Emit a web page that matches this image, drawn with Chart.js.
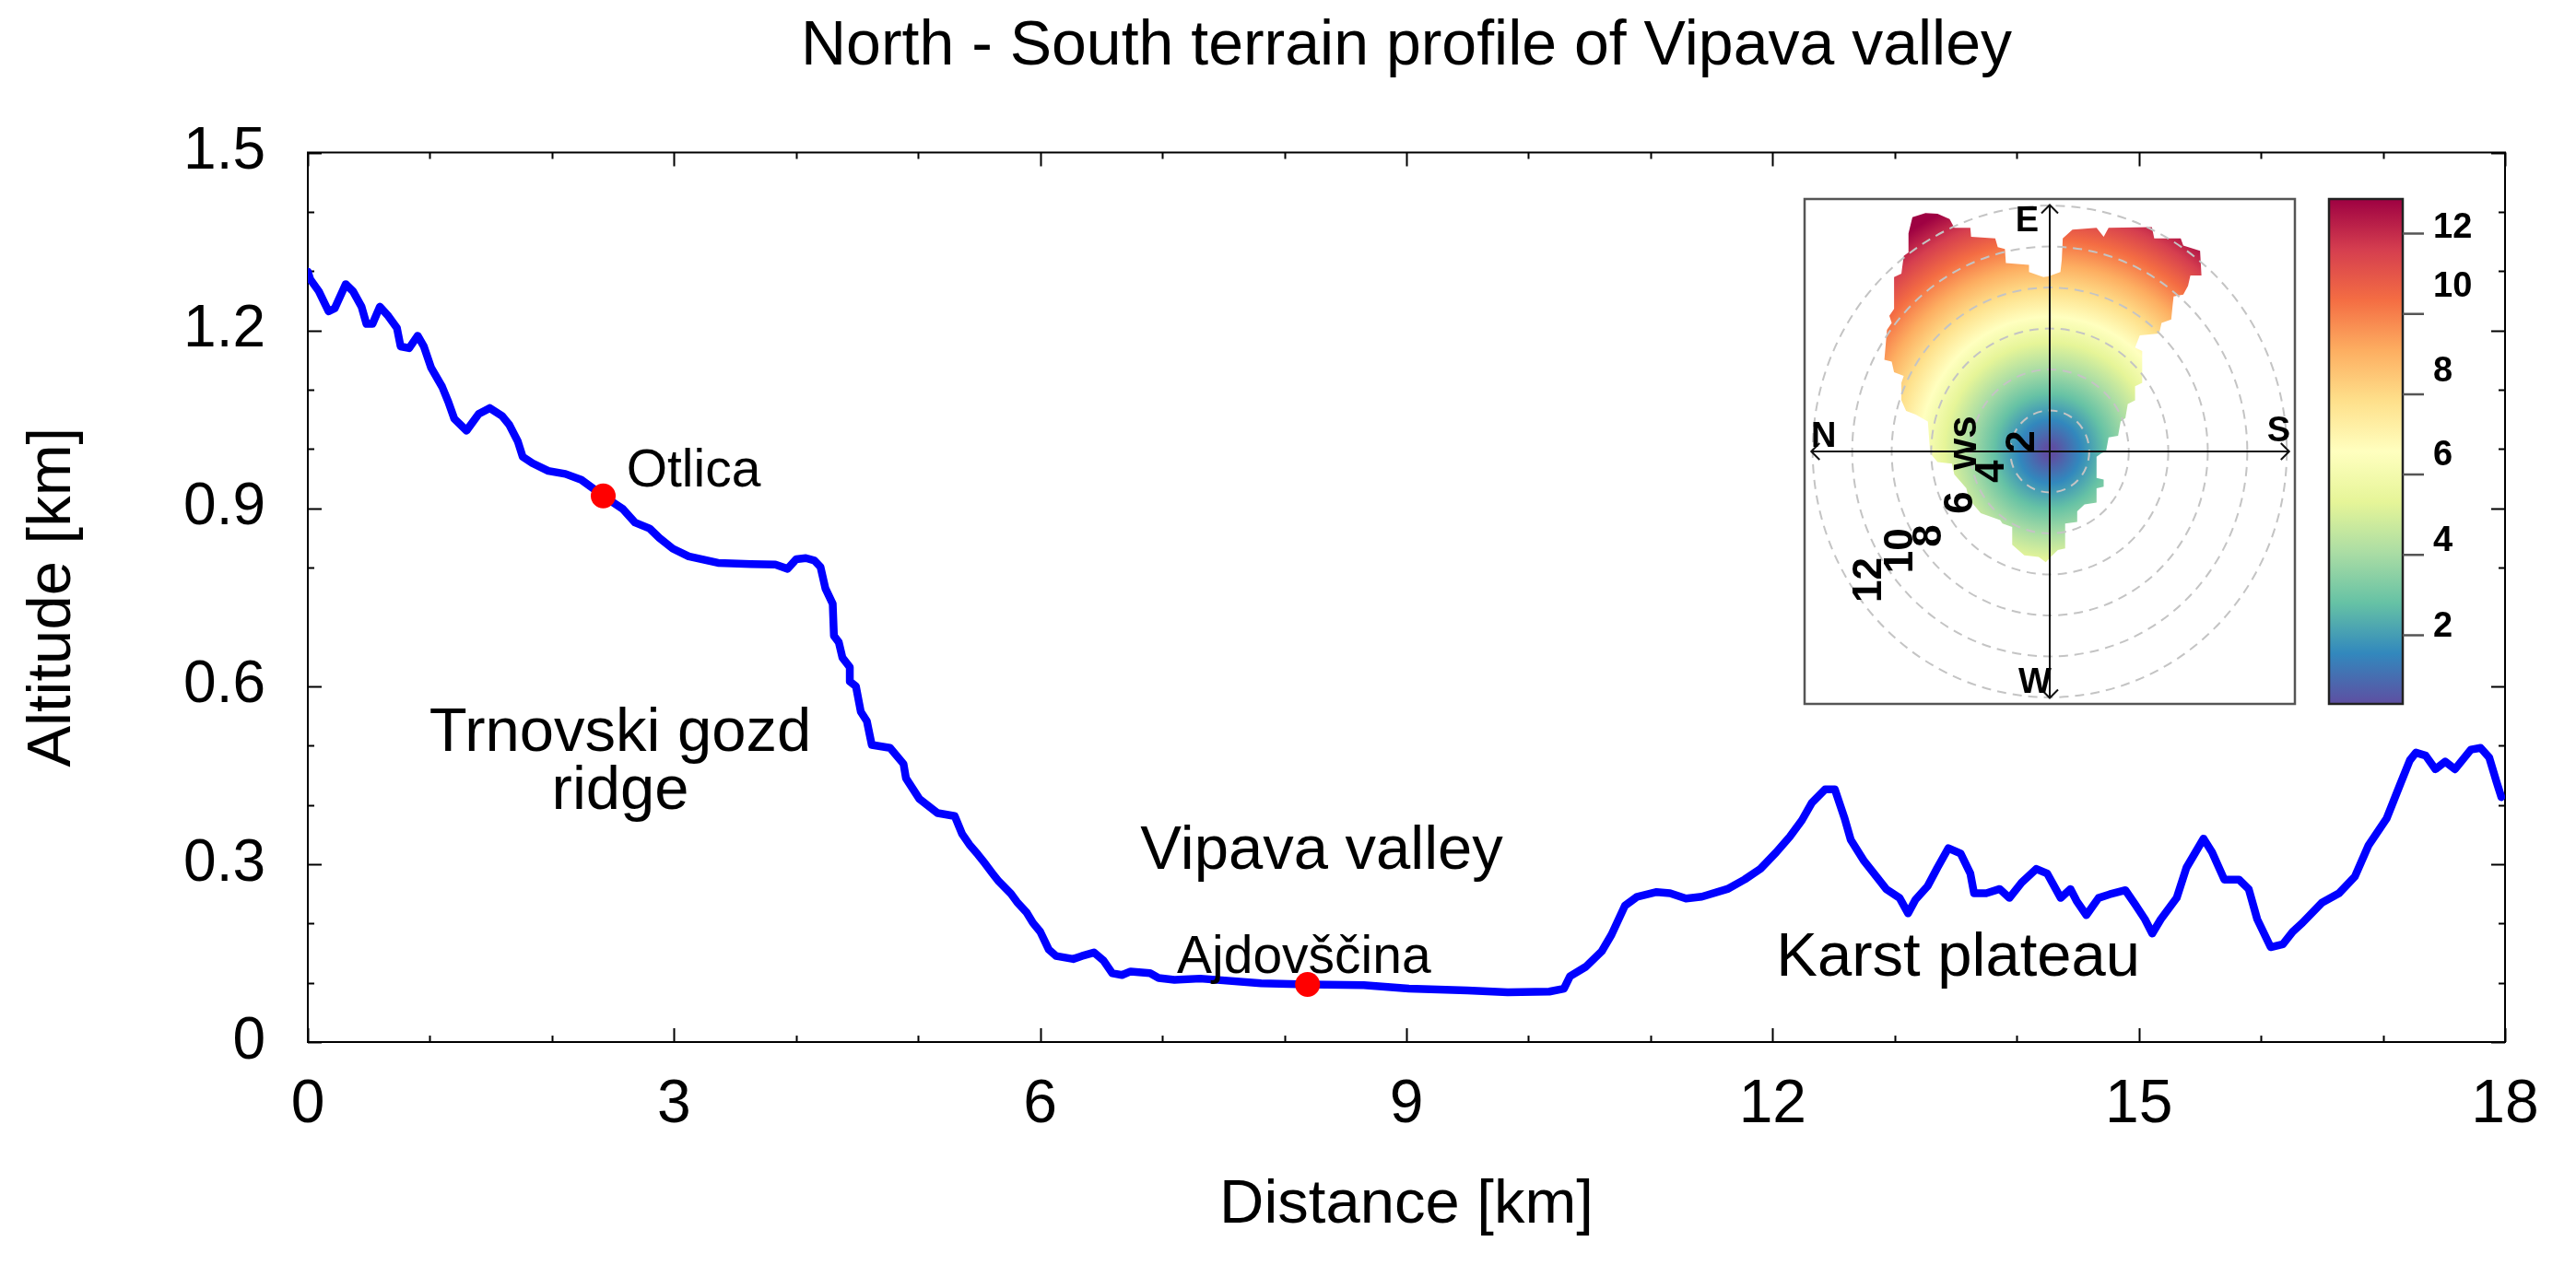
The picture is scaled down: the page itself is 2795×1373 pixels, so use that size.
<!DOCTYPE html>
<html>
<head>
<meta charset="utf-8">
<title>North - South terrain profile of Vipava valley</title>
<script src="https://cdn.jsdelivr.net/npm/chart.js@4.4.1/dist/chart.umd.min.js"></script>
<style>
  html, body { margin: 0; padding: 0; background: #fff; }
  #wrap { position: relative; width: 2795px; height: 1373px; }
  #profile { position: absolute; left: 0; top: 0; }
  #windrose { position: absolute; left: 1940px; top: 190px; }
</style>
</head>
<body>
<div id="wrap">
  <canvas id="profile" width="2795" height="1373"></canvas>
  <canvas id="windrose" width="760" height="600"></canvas>
</div>
<script>
// terrain profile
const distanceKm = [
  0.00, 0.02, 0.09, 0.17, 0.22, 0.31, 0.37, 0.44, 0.48, 0.53, 0.59, 0.66, 0.73, 0.76, 0.83, 0.90, 0.95,
  1.01, 1.10, 1.15, 1.20, 1.30, 1.40, 1.49, 1.59, 1.65, 1.72, 1.76, 1.84, 1.97, 2.11, 2.24, 2.42, 2.58,
  2.68, 2.80, 2.88, 2.99, 3.12, 3.36, 3.63, 3.83, 3.93, 4.00, 4.08, 4.15, 4.20, 4.24, 4.30, 4.31, 4.35,
  4.38, 4.44, 4.44, 4.49, 4.53, 4.58, 4.62, 4.77, 4.88, 4.90, 5.01, 5.16, 5.30, 5.36, 5.42, 5.49, 5.54,
  5.61, 5.66, 5.76, 5.81, 5.89, 5.94, 6.00, 6.07, 6.13, 6.27, 6.34, 6.44, 6.52, 6.59, 6.67, 6.74, 6.90,
  6.97, 7.10, 7.31, 7.81, 8.19, 8.65, 9.02, 9.50, 9.83, 10.17, 10.29, 10.34, 10.47, 10.60, 10.68, 10.79,
  10.89, 11.05, 11.16, 11.29, 11.42, 11.63, 11.77, 11.90, 12.03, 12.14, 12.24, 12.32, 12.43, 12.51, 12.59,
  12.64, 12.75, 12.85, 12.93, 13.04, 13.11, 13.17, 13.27, 13.35, 13.44, 13.54, 13.62, 13.65, 13.75, 13.86,
  13.94, 14.04, 14.16, 14.25, 14.36, 14.44, 14.49, 14.57, 14.67, 14.76, 14.89, 14.97, 15.05, 15.11, 15.18,
  15.31, 15.39, 15.53, 15.60, 15.70, 15.82, 15.90, 15.97, 16.08, 16.18, 16.26, 16.34, 16.50, 16.64, 16.77,
  16.88, 17.03, 17.14, 17.22, 17.27, 17.35, 17.43, 17.51, 17.59, 17.72, 17.80, 17.87, 17.93, 17.97
];
const altitudeKm = [
  1.299, 1.286, 1.266, 1.232, 1.237, 1.278, 1.266, 1.240, 1.211, 1.211, 1.240, 1.224, 1.204, 1.173, 1.170, 1.191, 1.173,
  1.137, 1.105, 1.080, 1.051, 1.031, 1.059, 1.069, 1.056, 1.041, 1.013, 0.987, 0.976, 0.963, 0.958, 0.948, 0.921, 0.899,
  0.876, 0.866, 0.850, 0.832, 0.819, 0.808, 0.806, 0.805, 0.798, 0.814, 0.816, 0.812, 0.801, 0.765, 0.739, 0.685, 0.674,
  0.648, 0.632, 0.608, 0.600, 0.557, 0.541, 0.501, 0.496, 0.469, 0.445, 0.410, 0.386, 0.381, 0.351, 0.333, 0.316, 0.303,
  0.284, 0.271, 0.250, 0.236, 0.218, 0.201, 0.186, 0.156, 0.145, 0.140, 0.145, 0.151, 0.137, 0.116, 0.113, 0.119, 0.116,
  0.108, 0.105, 0.107, 0.099, 0.097, 0.096, 0.090, 0.087, 0.084, 0.085, 0.090, 0.111, 0.127, 0.153, 0.181, 0.230,
  0.245, 0.253, 0.251, 0.242, 0.245, 0.258, 0.274, 0.292, 0.320, 0.346, 0.374, 0.403, 0.426, 0.426, 0.377,
  0.341, 0.305, 0.279, 0.258, 0.243, 0.217, 0.240, 0.263, 0.294, 0.327, 0.318, 0.284, 0.251, 0.251, 0.258,
  0.243, 0.269, 0.292, 0.284, 0.243, 0.258, 0.238, 0.214, 0.243, 0.249, 0.256, 0.232, 0.207, 0.183, 0.207,
  0.243, 0.294, 0.343, 0.320, 0.274, 0.274, 0.258, 0.207, 0.160, 0.165, 0.186, 0.201, 0.235, 0.251, 0.279,
  0.331, 0.377, 0.434, 0.475, 0.488, 0.483, 0.460, 0.473, 0.460, 0.493, 0.496, 0.480, 0.439, 0.413
];

const townKm = [2.42, 8.19];
const townAlt = [0.921, 0.097];

const noteText = ['Otlica', 'Ajdovščina', 'Trnovski gozd', 'ridge', 'Vipava valley', 'Karst plateau'];
const noteKm = [2.61, 7.12, 2.56, 2.56, 6.82, 12.03];
const noteAlt = [0.9375, 0.116, 0.491, 0.393, 0.292, 0.112];

const xTicks = [0, 3, 6, 9, 12, 15, 18];
const xMinorTicks = [1, 2, 4, 5, 7, 8, 10, 11, 13, 14, 16, 17];
const yTicks = [0, 0.3, 0.6, 0.9, 1.2, 1.5];
const yMinorTicks = [0.1, 0.2, 0.4, 0.5, 0.8, 1.0, 1.1, 1.3, 1.4];

// inset: wind polar plot (S = left/right component, E = up/down component, in ws units)
const roseS = [
  -7.15, -6.95, -6.29, -5.68, -5.07, -4.83, -4.02, -3.98, -2.76, -2.63, -2.27, -2.22, -1.05, -1.05, -0.32, -0.07,
  0.54, 0.61, 0.66, 1.15, 2.37, 2.73, 2.98, 5.17, 5.29, 6.63, 6.76, 7.61, 7.68, 7.12, 7.00, 6.76, 6.27, 6.22,
  6.15, 5.66, 5.54, 4.56, 4.32, 4.68, 4.68, 4.32, 4.32, 3.95, 3.83, 3.59, 3.46, 2.98, 2.85, 2.61, 2.37, 2.37,
  2.73, 2.73, 2.37, 2.37, 1.76, 1.39, 1.39, 0.78, 0.78, 0.41, 0.05, -0.20, -0.56, -1.29, -1.90, -1.90, -2.39,
  -2.51, -3.49, -4.10, -4.22, -4.83, -4.95, -5.68, -6.05, -6.17, -6.78, -7.27, -7.51, -7.51, -7.39, -7.88,
  -8.00, -8.37, -8.24, -8.00, -8.12, -7.88, -7.88, -7.51, -7.39, -7.15
];
const roseE = [
  10.65, 11.43, 11.63, 11.60, 11.34, 10.91, 10.91, 10.48, 10.40, 9.97, 9.88, 9.19, 9.11, 8.76, 8.51, 8.54,
  8.76, 9.36, 10.40, 10.82, 10.91, 10.48, 10.91, 10.95, 10.40, 10.40, 10.05, 9.79, 8.59, 8.59, 8.08, 7.65, 7.56, 7.13,
  6.44, 6.27, 5.76, 5.67, 5.07, 4.90, 3.35, 3.18, 2.49, 2.32, 1.63, 1.46, 0.77, 0.69, 0.00, -0.09, -0.26, -1.29,
  -1.37, -1.72, -1.80, -2.49, -2.58, -2.92, -3.44, -3.52, -4.73, -4.81, -5.15, -5.41, -5.15, -5.07, -4.55, -3.69, -3.52,
  -3.35, -3.01, -2.32, -1.80, -1.12, -0.60, -0.52, -0.09, 1.46, 1.80, 1.98, 2.49, 3.35, 3.69, 3.87,
  4.38, 4.47, 5.93, 6.27, 6.62, 6.96, 8.51, 8.68, 9.54, 9.71
];
const wsRings = [2, 4, 6, 8, 10, 12];
const wsLabelText = ['2', '4', '6', '8', '10', '12', 'ws'];
const wsLabelS = [-1.35, -2.90, -4.48, -6.07, -7.51, -9.10, -4.29];
const wsLabelE = [0.47, -0.98, -2.50, -4.12, -4.85, -6.27, 0.42];
const compassText = ['N', 'E', 'S', 'W'];
const compassS = [-12.08, -0.56, 11.0, -0.75];
const compassE = [0.24, 10.75, 0.51, -11.77];

const cbColors = ['#5e4fa2', '#3288bd', '#66c2a5', '#abdda4', '#e6f598', '#ffffbf',
                  '#fee08b', '#fdae61', '#f46d43', '#d53e4f', '#9e0142'];
const cbMin = 0.29;
const cbMax = 12.86;
const cbTicks = [2, 4, 6, 8, 10, 12];
const cbLabelAt = [2.20, 4.33, 6.46, 8.57, 10.67, 12.13];

const FONT = "'Liberation Sans', Arial, Helvetica, sans-serif";
const noteStyle = [
  { align: 'left', size: 57 }, { align: 'left', size: 57 }, { align: 'center', size: 67 },
  { align: 'center', size: 67 }, { align: 'left', size: 67 }, { align: 'left', size: 67 }
];

const frame = {
  id: 'frame',
  beforeDatasetsDraw(chart) {
    const { ctx, chartArea: a, scales: { x, y } } = chart;
    ctx.save();
    ctx.strokeStyle = '#000';
    ctx.lineWidth = 2;
    ctx.beginPath();
    const xt = (vals, len) => vals.forEach(v => {
      const p = Math.round(x.getPixelForValue(v)) + 0.5;
      ctx.moveTo(p, a.bottom); ctx.lineTo(p, a.bottom - len);
      ctx.moveTo(p, a.top); ctx.lineTo(p, a.top + len);
    });
    const yt = (vals, len) => vals.forEach(v => {
      const p = Math.round(y.getPixelForValue(v)) + 0.5;
      ctx.moveTo(a.left, p); ctx.lineTo(a.left + len, p);
      ctx.moveTo(a.right, p); ctx.lineTo(a.right - len, p);
    });
    xt(xTicks, 15); xt(xMinorTicks, 7);
    yt(yTicks, 15); yt(yMinorTicks, 7);
    ctx.stroke();
    ctx.strokeRect(a.left, a.top, a.width, a.height);
    ctx.restore();
  },
  afterDatasetsDraw(chart) {
    const { ctx, scales: { x, y } } = chart;
    ctx.save();
    ctx.fillStyle = '#000';
    ctx.textBaseline = 'alphabetic';
    noteText.forEach((t, i) => {
      ctx.font = noteStyle[i].size + 'px ' + FONT;
      ctx.textAlign = noteStyle[i].align;
      ctx.fillText(t, x.getPixelForValue(noteKm[i]), y.getPixelForValue(noteAlt[i]));
    });
    ctx.restore();
  }
};

new Chart(document.getElementById('profile'), {
  type: 'scatter',
  data: {
    datasets: [
      {
        data: distanceKm.map((d, i) => ({ x: d, y: altitudeKm[i] })),
        showLine: true,
        borderColor: '#0000ff',
        borderWidth: 8.5,
        borderCapStyle: 'round',
        borderJoinStyle: 'round',
        pointRadius: 0,
        tension: 0,
        order: 2
      },
      {
        data: townKm.map((d, i) => ({ x: d, y: townAlt[i] })),
        backgroundColor: '#ff0000',
        borderWidth: 0,
        pointRadius: 13.5,
        order: 1
      }
    ]
  },
  options: {
    responsive: false,
    animation: false,
    devicePixelRatio: 1,
    layout: { padding: { left: 0, right: 77, top: 0, bottom: 0 } },
    plugins: {
      legend: { display: false },
      tooltip: { enabled: false },
      title: {
        display: true,
        fullSize: false,
        text: 'North - South terrain profile of Vipava valley',
        color: '#000',
        font: { family: FONT, size: 68, weight: 'normal' },
        padding: { top: 10.6, bottom: 73.3 }
      }
    },
    scales: {
      x: {
        type: 'linear', min: 0, max: 18,
        afterBuildTicks: s => { s.ticks = xTicks.map(v => ({ value: v })); },
        afterFit: s => { s.height = 242; },
        grid: { display: false, drawTicks: false },
        border: { display: false },
        ticks: { color: '#000', font: { family: FONT, size: 66 }, padding: 29, maxRotation: 0, autoSkip: false,
                 callback: v => String(v) },
        title: { display: true, text: 'Distance [km]', color: '#000',
                 font: { family: FONT, size: 67 }, padding: { top: 0, bottom: 24 } }
      },
      y: {
        type: 'linear', min: 0, max: 1.5,
        afterBuildTicks: s => { s.ticks = yTicks.map(v => ({ value: v })); },
        afterFit: s => { s.width = 334; },
        grid: { display: false, drawTicks: false },
        border: { display: false },
        ticks: { color: '#000', font: { family: FONT, size: 64 }, padding: 46, autoSkip: false,
                 callback: v => String(v) },
        title: { display: true, text: 'Altitude [km]', color: '#000',
                 font: { family: FONT, size: 67 }, padding: { top: 17, bottom: 0 } }
      }
    }
  },
  plugins: [frame]
});

// ---------- inset ----------
function spectralFill(ctx, cx, cy, ux, uy) {
  ctx.translate(cx, cy);
  ctx.scale(ux, uy);
  const g = ctx.createRadialGradient(0, 0, 0, 0, 0, cbMax);
  g.addColorStop(0, cbColors[0]);
  cbColors.forEach((c, i) => {
    g.addColorStop((cbMin + i * (cbMax - cbMin) / (cbColors.length - 1)) / cbMax, c);
  });
  return g;
}

const rose = {
  id: 'rose',
  beforeDatasetsDraw(chart) {
    const { ctx, chartArea: a, scales: { x, y } } = chart;
    const cx = x.getPixelForValue(0), cy = y.getPixelForValue(0);
    const ux = x.getPixelForValue(1) - cx, uy = cy - y.getPixelForValue(1);
    ctx.save();
    ctx.fillStyle = '#fff';
    ctx.fillRect(a.left, a.top, a.width, a.height);

    // coloured surface
    const pts = chart.getDatasetMeta(0).data;
    ctx.beginPath();
    pts.forEach((p, i) => (i ? ctx.lineTo(p.x, p.y) : ctx.moveTo(p.x, p.y)));
    ctx.closePath();
    ctx.save();
    ctx.fillStyle = spectralFill(ctx, cx, cy, ux, uy);
    ctx.fill();
    ctx.restore();

    // dashed ws rings
    ctx.strokeStyle = '#c4c4c4';
    ctx.lineWidth = 2;
    ctx.setLineDash([10, 7]);
    wsRings.forEach(r => {
      ctx.beginPath();
      ctx.ellipse(cx, cy, r * ux, r * uy, 0, 0, Math.PI * 2);
      ctx.stroke();
    });
    ctx.setLineDash([]);

    // axes with arrows
    const l = x.getPixelForValue(-12.07), rr = x.getPixelForValue(12.12);
    const t = y.getPixelForValue(12.03), b = y.getPixelForValue(-12.03);
    ctx.strokeStyle = '#111';
    ctx.lineWidth = 2;
    ctx.beginPath();
    ctx.moveTo(l, cy); ctx.lineTo(rr, cy);
    ctx.moveTo(cx, t); ctx.lineTo(cx, b);
    const h = 9;
    ctx.moveTo(l + h, cy - h); ctx.lineTo(l, cy); ctx.lineTo(l + h, cy + h);
    ctx.moveTo(rr - h, cy - h); ctx.lineTo(rr, cy); ctx.lineTo(rr - h, cy + h);
    ctx.moveTo(cx - h, t + h); ctx.lineTo(cx, t); ctx.lineTo(cx + h, t + h);
    ctx.moveTo(cx - h, b - h); ctx.lineTo(cx, b); ctx.lineTo(cx + h, b - h);
    ctx.stroke();

    // labels
    ctx.fillStyle = '#000';
    ctx.font = 'bold 38px ' + FONT;
    ctx.textBaseline = 'alphabetic';
    const compassAlign = ['left', 'right', 'left', 'center'];
    compassText.forEach((c, i) => {
      ctx.textAlign = compassAlign[i];
      ctx.fillText(c, x.getPixelForValue(compassS[i]), y.getPixelForValue(compassE[i]));
    });
    ctx.font = 'bold 44px ' + FONT;
    ctx.textAlign = 'center';
    ctx.textBaseline = 'middle';
    wsLabelText.forEach((s, i) => {
      ctx.save();
      ctx.translate(x.getPixelForValue(wsLabelS[i]), y.getPixelForValue(wsLabelE[i]));
      ctx.rotate(-Math.PI / 2);
      ctx.fillText(s, 0, 0);
      ctx.restore();
    });

    ctx.strokeStyle = '#555';
    ctx.lineWidth = 2.5;
    ctx.strokeRect(a.left, a.top, a.width, a.height);
    ctx.restore();
  },
  afterDraw(chart) {
    const { ctx, chartArea: a, scales: { cb } } = chart;
    const x0 = a.right + 37, x1 = a.right + 117;
    const yb = cb.getPixelForValue(cbMin), yt = cb.getPixelForValue(cbMax);
    ctx.save();
    const g = ctx.createLinearGradient(0, yb, 0, yt);
    cbColors.forEach((c, i) => g.addColorStop(i / (cbColors.length - 1), c));
    ctx.fillStyle = g;
    ctx.fillRect(x0, yt, x1 - x0, yb - yt);
    ctx.strokeStyle = '#222';
    ctx.lineWidth = 2.5;
    ctx.strokeRect(x0, yt, x1 - x0, yb - yt);
    ctx.strokeStyle = '#555';
    ctx.lineWidth = 2.5;
    ctx.beginPath();
    cbTicks.forEach(v => {
      const p = cb.getPixelForValue(v);
      ctx.moveTo(x1, p); ctx.lineTo(x1 + 23, p);
    });
    ctx.stroke();
    ctx.fillStyle = '#000';
    ctx.font = 'bold 38px ' + FONT;
    ctx.textAlign = 'left';
    ctx.textBaseline = 'middle';
    cbTicks.forEach((v, i) => ctx.fillText(String(v), x1 + 33, cb.getPixelForValue(cbLabelAt[i])));
    ctx.restore();
  }
};

new Chart(document.getElementById('windrose'), {
  type: 'scatter',
  data: {
    datasets: [{
      data: roseS.map((s, i) => ({ x: s, y: roseE[i] })),
      pointRadius: 0,
      showLine: false
    }]
  },
  options: {
    responsive: false,
    animation: false,
    devicePixelRatio: 1,
    layout: { padding: { left: 18, top: 26, right: 210, bottom: 26 } },
    plugins: { legend: { display: false }, tooltip: { enabled: false } },
    scales: {
      x: { type: 'linear', min: -12.41, max: 12.41, display: false },
      y: { type: 'linear', min: -12.32, max: 12.32, display: false },
      cb: { type: 'linear', position: 'right', min: cbMin, max: cbMax, display: false }
    }
  },
  plugins: [rose]
});
</script>
</body>
</html>
